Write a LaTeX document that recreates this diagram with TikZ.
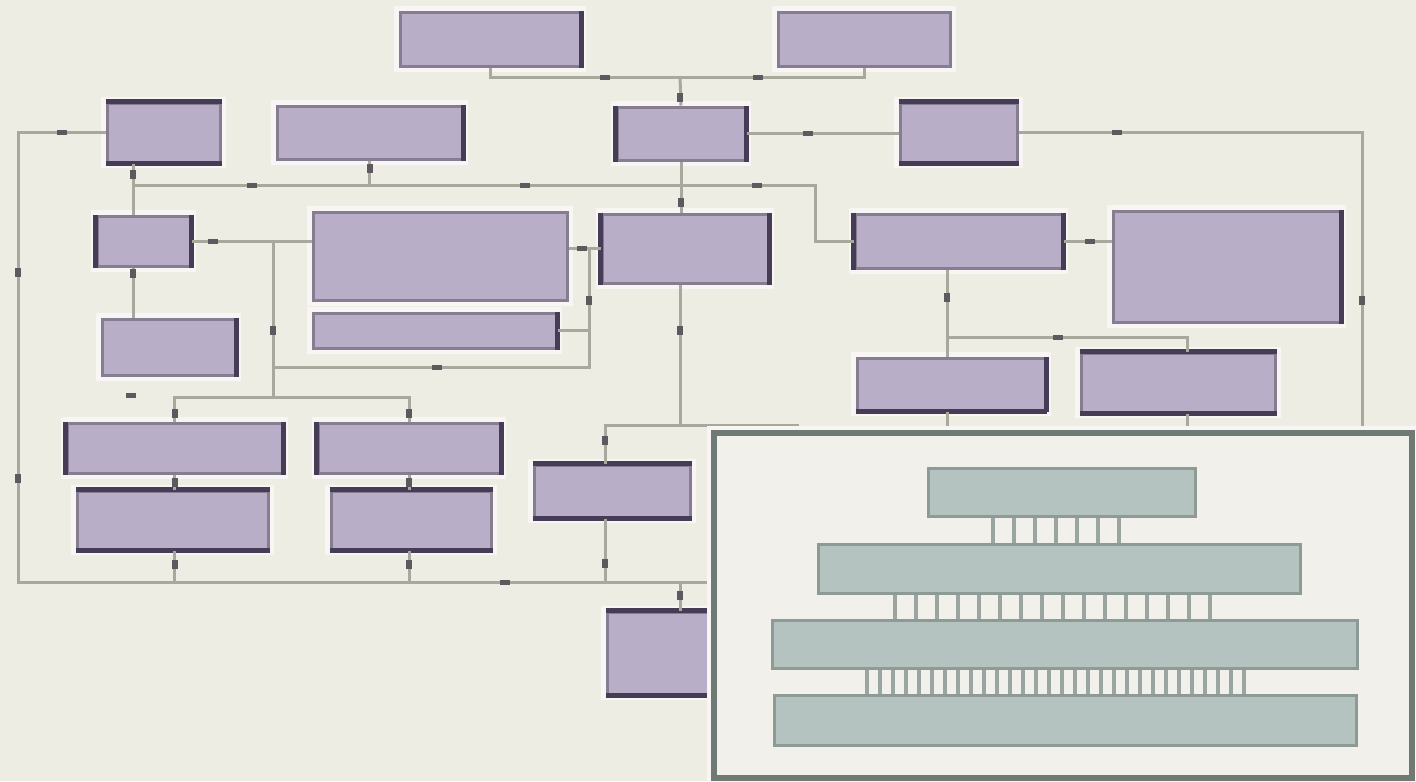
\documentclass[tikz,border=0pt]{standalone}
\usetikzlibrary{calc}
\definecolor{paper}{HTML}{EEEDE4}
\definecolor{lilac}{HTML}{B9AEC7}
\definecolor{lilacedge}{HTML}{877D90}
\definecolor{lilacrim}{HTML}{463C55}
\definecolor{wirec}{HTML}{A9A89D}
\definecolor{tickc}{HTML}{5D595E}
\definecolor{sage}{HTML}{B4C3BF}
\definecolor{sageedge}{HTML}{8E9A96}
\definecolor{framec}{HTML}{6E7A73}
\definecolor{panelc}{HTML}{F1F0EA}
\definecolor{halo}{HTML}{F8F6F5}
\definecolor{pinc}{HTML}{9AA4A0}

\tikzset{
  blk/.style={draw=lilacedge, line width=0.3mm, fill=lilac, inner sep=0pt,
    preaction={draw=halo, line width=1.2mm}},
  rim/.style={draw=lilacrim, line width=0.5mm},
  wire/.style={draw=wirec, line width=0.3mm},
  mk/.style={fill=tickc, inner sep=0pt, minimum width=1mm, minimum height=0.5mm},
  mkv/.style={mk, minimum width=0.6mm, minimum height=0.9mm},
  panel/.style={draw=framec, line width=0.6mm, fill=panelc, inner sep=0pt,
    preaction={draw=halo, line width=1.4mm}},
  slab/.style={draw=sageedge, line width=0.3mm, fill=sage, inner sep=0pt},
  pin/.style={draw=pinc, line width=0.35mm}
}

\begin{document}
\begin{tikzpicture}[x=0.1mm, y=-0.1mm]
  \useasboundingbox (0,0) rectangle (1416,781);
  \fill[paper] (0,0) rectangle (1416,781);

  % blocks
  \node[blk, minimum width=18mm,   minimum height=5.4mm]  (t1) at (490,39) {};
  \node[blk, minimum width=17.2mm, minimum height=5.4mm]  (t2) at (864,39) {};
  \node[blk, minimum width=11.3mm, minimum height=5.9mm]  (a)  at (163.5,132.5) {};
  \node[blk, minimum width=18.5mm, minimum height=5.3mm]  (b)  at (369.5,132.5) {};
  \node[blk, minimum width=12.8mm, minimum height=5.3mm]  (c)  at (681,133.5) {};
  \node[blk, minimum width=11.7mm, minimum height=5.9mm]  (d)  at (958.5,132.5) {};
  \node[blk, minimum width=9.3mm,  minimum height=5mm]    (e)  at (143.5,241) {};
  \node[blk, minimum width=25.4mm, minimum height=8.8mm]  (f)  at (440,256) {};
  \node[blk, minimum width=24.3mm, minimum height=3.5mm]  (fb) at (434.5,330.5) {};
  \node[blk, minimum width=16.6mm, minimum height=6.9mm]  (g)  at (685,248.5) {};
  \node[blk, minimum width=20.7mm, minimum height=5.4mm]  (h)  at (958.5,241) {};
  \node[blk, minimum width=22.7mm, minimum height=11.1mm] (i)  at (1226.5,266.5) {};
  \node[blk, minimum width=13.3mm, minimum height=5.6mm]  (j)  at (168.5,347) {};
  \node[blk, minimum width=18.8mm, minimum height=5.2mm]  (k)  at (951,384) {};
  \node[blk, minimum width=19.4mm, minimum height=5.9mm]  (l)  at (1178,382.5) {};
  \node[blk, minimum width=21.5mm, minimum height=5mm]    (m)  at (174.5,448) {};
  \node[blk, minimum width=18.2mm, minimum height=5mm]    (n)  at (409,448) {};
  \node[blk, minimum width=19.1mm, minimum height=5.8mm]  (m2) at (172.5,520) {};
  \node[blk, minimum width=16mm,   minimum height=5.8mm]  (n2) at (411,520) {};
  \node[blk, minimum width=15.6mm, minimum height=5.2mm]  (p)  at (612,491) {};
  \node[blk, minimum width=13.3mm, minimum height=8.2mm]  (q)  at (673.5,653) {};

  % dark edges
  \foreach \n in {c,e,g,h,m,n}
    \draw[rim] (\n.north west) -- (\n.south west) (\n.north east) -- (\n.south east);
  \foreach \n in {a,d,l,p,q,m2,n2}
    \draw[rim] (\n.north west) -- (\n.north east) (\n.south west) -- (\n.south east);
  \foreach \n in {t1,b,j,k,fb,i}
    \draw[rim] (\n.north east) -- (\n.south east);
  \draw[rim] (k.south west) -- (k.south east);

  % junctions
  \coordinate (jtop) at (680,77);
  \coordinate (bl) at (133,185);
  \coordinate (br) at (815,185);
  \coordinate (rt) at (1362,127);
  \coordinate (lf) at (18,582);
  \coordinate (pnw) at (714,433);
  \coordinate (vx) at (273,397);
  \coordinate (fr) at (589,367);
  \coordinate (pj) at (680,425);
  \coordinate (pl) at (605,425);
  \coordinate (pr) at (797,425);
  \coordinate (hk) at (947,337);
  \coordinate (lk) at (1187,337);

  % connectors
  \draw[wire] (t1.south) |- (jtop) -| (t2.south);
  \draw[wire] (jtop) -- (c.north);
  \draw[wire] (c.south) -- (c.south |- g.north);
  \draw[wire] (a.south -| bl) -- (e.north -| bl);
  \draw[wire] (bl) -- (br) |- (h.west);
  \draw[wire] (b.south) -- (b.south |- bl);
  \draw[wire] (c.east) -- (c.east -| d.west);
  \draw[wire] (d.east) -| (rt |- pnw);
  \draw[wire] (a.west) -| (lf) -- (lf -| pnw);
  \draw[wire] (e.south -| bl) -- (j.north -| bl);
  \draw[wire] (e.east) -- (e.east -| f.west);
  \draw[wire] (e.east -| vx) -- (vx);
  \draw[wire] (m.north) |- (n.north |- vx) -- (n.north);
  \draw[wire] (g.west -| f.east) -- (g.west);
  \draw[wire] (g.west -| fr) -- (fr) -- (fr -| vx);
  \draw[wire] (fb.east) -- (fb.east -| fr);
  \draw[wire] (m.south) -- (m.south |- m2.north);
  \draw[wire] (m2.south -| m.south) -- (m.south |- lf);
  \draw[wire] (n.south) -- (n.south |- n2.north);
  \draw[wire] (n2.south -| n.south) -- (n.south |- lf);
  \draw[wire] (g.south -| pj) -- (pj);
  \draw[wire] (p.north -| pl) -- (pl) -- (pr) -- (pr |- pnw);
  \draw[wire] (p.south -| pl) -- (pl |- lf);
  \draw[wire] (q.north -| pj) -- (pj |- lf);
  \draw[wire] (h.south -| hk) -- (k.north -| hk);
  \draw[wire] (hk) -- (lk) -- (l.north -| lk);
  \draw[wire] (k.south -| hk) -- (hk |- pnw);
  \draw[wire] (l.south -| lk) -- (lk |- pnw);
  \draw[wire] (h.east) -- (h.east -| i.west);

  % markers
  \foreach \x/\y [count=\i] in {605/77, 758/77, 252/185, 525/185, 757/185,
      808/133.5, 1117/132.5, 62/132.5, 505/582, 213/241, 437/367, 582/248.5,
      1058/337, 1090/241, 131/395}
    \node[mk] (mh\i) at (\x,\y) {};
  \foreach \x/\y [count=\i] in {680/97, 681/202, 369.5/168, 133/174, 1362/300,
      18/272, 18/478, 133/273, 273/330, 174.5/413, 409/413, 174.5/482,
      409/482, 174.5/564, 409/564, 589/300, 680/330, 605/440, 605/563,
      680/595, 947/297}
    \node[mkv] (mv\i) at (\x,\y) {};

  % inset
  \node[panel, minimum width=69.8mm, minimum height=34.5mm] (panel) at (1063,605.5) {};
  \node[slab, minimum width=26.7mm, minimum height=4.8mm] (s1) at (1061.5,492) {};
  \node[slab, minimum width=48.2mm, minimum height=4.9mm] (s2) at (1059,568.5) {};
  \node[slab, minimum width=58.5mm, minimum height=4.8mm] (s3) at (1064.5,644) {};
  \node[slab, minimum width=58.2mm, minimum height=5mm]   (s4) at (1065,720) {};
  \foreach \px in {993,1014,...,1119} {
    \coordinate (pinx) at (\px,0);
    \draw[pin] (s1.south -| pinx) -- (s2.north -| pinx);
  }
  \foreach \px in {895,916,...,1210} {
    \coordinate (pinx) at (\px,0);
    \draw[pin] (s2.south -| pinx) -- (s3.north -| pinx);
  }
  \foreach \px in {867,880,...,1244} {
    \coordinate (pinx) at (\px,0);
    \draw[pin] (s3.south -| pinx) -- (s4.north -| pinx);
  }
\end{tikzpicture}
\end{document}
